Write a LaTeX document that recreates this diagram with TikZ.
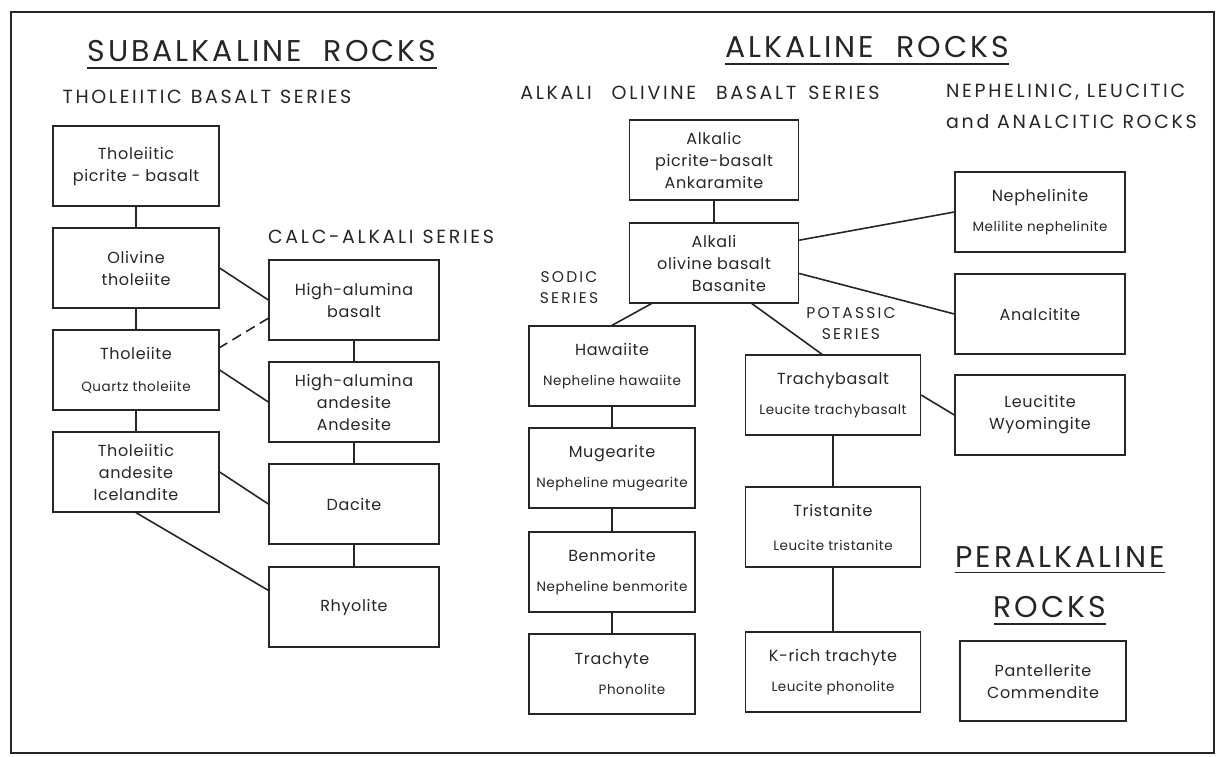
\documentclass[tikz,border=0pt]{standalone}
\usepackage{fontspec}
\setmainfont{Poppins}
\newfontfamily\stencil[LetterSpace=4]{Poppins}
\newfontfamily\spaced[LetterSpace=14]{Poppins}
\newfontfamily\banner[LetterSpace=10]{Poppins}
\newcommand\minor[1]{{\fontsize{13.5}{16}\selectfont #1}}
\tikzset{
  rock/.style={draw, line width=1.3pt, minimum width=166pt, minimum height=80pt, inner sep=0pt, align=center, font=\stencil\fontsize{16}{22}\selectfont},
  series/.style={inner sep=0pt, align=left, font=\spaced\fontsize{19}{30}\selectfont},
  heading/.style={inner sep=0pt, font=\banner\fontsize{30}{36}\selectfont},
  link/.style={line width=1.6pt},
}
\begin{document}
\begin{tikzpicture}[x=1pt,y=-1pt,black!85]
\useasboundingbox (0,0) rectangle (1218,756);
\draw[line width=2.2pt] (11,12) rectangle (1214,753);
\node[heading] (sub) at (262,51) {SUBALKALINE\ \ ROCKS};
\node[heading] (alk) at (867,47) {ALKALINE\ \ ROCKS};
\node[heading] (peral) at (1060,557) {PERALKALINE};
\node[heading] (prock) at (1050,607) {ROCKS};
\draw[link] ([yshift=-6pt]sub.south west) -- ([yshift=-6pt]sub.south east);
\draw[link] ([yshift=-6pt]alk.south west) -- ([yshift=-6pt]alk.south east);
\draw[link] ([yshift=-5pt]peral.south west) -- ([yshift=-5pt]peral.south east);
\draw[link] ([yshift=-6pt]prock.south west) -- ([yshift=-6pt]prock.south east);
\node[series] (thol) at (207,97) {THOLEIITIC\hspace{9pt}BASALT\hspace{9pt}SERIES};
\node[series] (calc) at (381,237) {CALC-ALKALI\hspace{9pt}SERIES};
\node[series] (aobs) at (700,93) {ALKALI\hspace{20pt}OLIVINE\hspace{20pt}BASALT\hspace{12pt}SERIES};
\node[series, anchor=west] (neph) at (946,92) {NEPHELINIC, LEUCITIC};
\node[series, anchor=west] (anal) at (946,122) {and ANALCITIC\hspace{8pt}ROCKS};
\node[series, align=center, font=\spaced\fontsize{15.5}{21}\selectfont] (sodic) at (569,288) {SODIC\\SERIES};
\node[series, align=center, font=\spaced\fontsize{15.5}{21}\selectfont] (potas) at (851,324) {POTASSIC\\SERIES};
\node[rock] (tpb) at (136,166) {Tholeiitic\\picrite - basalt};
\node[rock] (olt) at (136,268) {Olivine\\tholeiite};
\node[rock] (tho) at (136,370) {Tholeiite\\[10pt]\minor{Quartz tholeiite}};
\node[rock] (tan) at (136,472) {Tholeiitic\\andesite\\Icelandite};
\node[rock, minimum width=170pt] (hab) at (354,300) {High-alumina\\basalt};
\node[rock, minimum width=170pt] (haa) at (354,402) {High-alumina\\andesite\\Andesite};
\node[rock, minimum width=170pt] (dac) at (354,504) {Dacite};
\node[rock, minimum width=170pt] (rhy) at (354,607) {Rhyolite};
\node[rock, minimum width=169pt] (apb) at (714,160) {Alkalic\\picrite-basalt\\Ankaramite};
\node[rock, minimum width=169pt] (aob) at (714,263) {Alkali\\olivine basalt\\\hspace*{30pt}Basanite};
\node[rock] (haw) at (612,366) {Hawaiite\\[8pt]\minor{Nepheline hawaiite}};
\node[rock] (mug) at (612,468) {Mugearite\\[8pt]\minor{Nepheline mugearite}};
\node[rock] (ben) at (612,572) {Benmorite\\[8pt]\minor{Nepheline benmorite}};
\node[rock] (trc) at (612,674) {Trachyte\\[8pt]\hspace*{40pt}\minor{Phonolite}};
\node[rock, minimum width=175pt] (tbs) at (833,395) {Trachybasalt\\[8pt]\minor{Leucite trachybasalt}};
\node[rock, minimum width=175pt] (tri) at (833,527) {Tristanite\\[12pt]\minor{Leucite tristanite}};
\node[rock, minimum width=175pt] (krt) at (833,672) {K-rich trachyte\\[8pt]\minor{Leucite phonolite}};
\node[rock, minimum width=170pt] (nep) at (1040,212) {Nephelinite\\[8pt]\minor{Melilite nephelinite}};
\node[rock, minimum width=170pt] (ana) at (1040,314) {Analcitite};
\node[rock, minimum width=170pt] (leu) at (1040,415) {Leucitite\\Wyomingite};
\node[rock, minimum width=166pt] (pan) at (1043,681) {Pantellerite\\Commendite};
\draw[link] (tpb) -- (olt);
\draw[link] (olt) -- (tho);
\draw[link] (tho) -- (tan);
\draw[link] (hab) -- (haa);
\draw[link] (haa) -- (dac);
\draw[link] (dac) -- (rhy);
\draw[link] (olt.east) -- (hab.west);
\draw[link, dash pattern=on 10pt off 6pt] (hab.192) -- (tho.15);
\draw[link] (tho.east) -- (haa.west);
\draw[link] (tan.east) -- (dac.west);
\draw[link] (tan.south) -- (rhy.169);
\draw[link] (apb) -- (aob);
\draw[link] (aob.213) -- (haw.north);
\draw[link] (aob.313) -- (tbs.105);
\draw[link] (aob.15) -- (nep.west);
\draw[link] (aob.353) -- (ana.west);
\draw[link] (tbs.east) -- (leu.west);
\draw[link] (haw) -- (mug);
\draw[link] (mug) -- (ben);
\draw[link] (ben) -- (trc);
\draw[link] (tbs) -- (tri);
\draw[link] (tri) -- (krt);
\end{tikzpicture}
\end{document}
